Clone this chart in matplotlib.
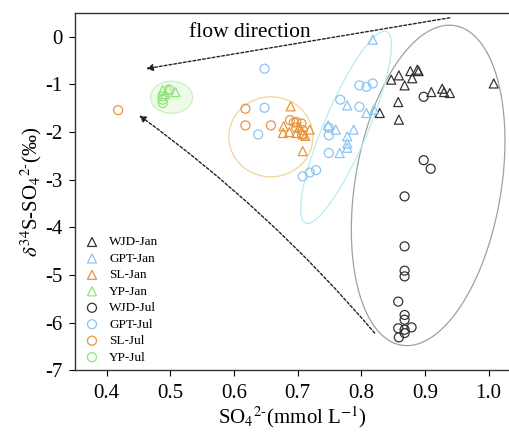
import numpy as np
import matplotlib.pyplot as plt
from matplotlib.patches import Polygon

plt.rcParams['font.family'] = ['Liberation Serif', 'DejaVu Serif']
plt.rcParams['mathtext.fontset'] = 'stix'

# data
wjd_jan_x = [0.847, 0.859, 0.868, 0.877, 0.880, 0.888, 0.890, 0.910, 0.927, 0.930, 0.939, 1.008, 0.858, 0.859, 0.829]
wjd_jan_y = [-0.90, -0.81, -1.02, -0.72, -0.87, -0.69, -0.72, -1.16, -1.09, -1.16, -1.18, -0.98, -1.37, -1.74, -1.60]
gpt_jan_x = [0.818, 0.778, 0.808, 0.820, 0.748, 0.760, 0.788, 0.778, 0.778, 0.778, 0.766]
gpt_jan_y = [-0.06, -1.44, -1.60, -1.53, -1.86, -1.95, -1.95, -2.09, -2.24, -2.33, -2.44]
sl_jan_x = [0.689, 0.678, 0.677, 0.687, 0.698, 0.708, 0.719, 0.708, 0.703, 0.712]
sl_jan_y = [-1.46, -1.88, -2.02, -2.00, -2.02, -2.05, -1.95, -2.40, -1.90, -2.08]
yp_jan_x = [0.488, 0.508, 0.497, 0.492]
yp_jan_y = [-1.12, -1.16, -1.10, -1.20]
wjd_jul_x = [0.898, 0.898, 0.909, 0.868, 0.868, 0.868, 0.868, 0.858, 0.868, 0.868, 0.858, 0.879, 0.868, 0.868, 0.859]
wjd_jul_y = [-1.26, -2.59, -2.77, -3.35, -4.40, -4.91, -5.03, -5.56, -5.84, -5.94, -6.12, -6.10, -6.15, -6.22, -6.31]
gpt_jul_x = [0.648, 0.648, 0.638, 0.797, 0.808, 0.818, 0.767, 0.797, 0.749, 0.749, 0.749, 0.708, 0.719, 0.729]
gpt_jul_y = [-0.67, -1.49, -2.05, -1.02, -1.05, -0.98, -1.32, -1.47, -1.91, -2.07, -2.44, -2.93, -2.85, -2.80]
sl_jul_x = [0.418, 0.618, 0.618, 0.658, 0.688, 0.698, 0.706, 0.698, 0.708, 0.707, 0.694]
sl_jul_y = [-1.54, -1.51, -1.86, -1.86, -1.75, -1.79, -1.82, -1.91, -1.96, -2.05, -1.80]
yp_jul_x = [0.488, 0.488, 0.488, 0.498]
yp_jul_y = [-1.25, -1.32, -1.39, -1.11]

black = '#333333'
blue = '#8cc4f7'
orange = '#e8953f'
green = '#8ee57a'

fig = plt.figure(figsize=(5.09, 4.33), dpi=100)
ax = fig.add_axes([0.147, 0.145, 0.853, 0.825])
ax.set_xlim(0.35, 1.032)
ax.set_ylim(-7, 0.5)

# px per data unit (for drawing rotated ellipses in screen shape)
sx = 0.853 * 509 / (1.032 - 0.35)
sy = 0.825 * 433 / 7.5


def ellipse(cx, cy, a, b, ang, **kw):
    # a, b semi axes in pixels, ang in degrees from vertical (clockwise)
    t = np.linspace(0, 2 * np.pi, 200)
    th = np.radians(ang)
    u = b * np.cos(t)
    v = a * np.sin(t)
    px = u * np.cos(th) + v * np.sin(th)
    py = -u * np.sin(th) + v * np.cos(th)
    pts = np.column_stack([cx + px / sx, cy + py / sy])
    ax.add_patch(Polygon(pts, closed=True, **kw))


ellipse(0.905, -3.12, 162, 73, 9.5, fill=False, ec='#a0a0a0', lw=0.9)
ellipse(0.776, -1.90, 104, 22, 23, fill=False, ec='#b8ecf2', lw=0.9)
ellipse(0.658, -2.10, 40, 42, 0, fill=False, ec='#f2d49a', lw=0.9)
ellipse(0.502, -1.27, 16, 21, 0, fc='#eefbe9', ec='#c8f2bc', lw=0.9)

kw = dict(s=42, facecolors='none', linewidths=0.9)
ax.scatter(wjd_jan_x, wjd_jan_y, marker='^', edgecolors=black, label='WJD-Jan', **kw)
ax.scatter(gpt_jan_x, gpt_jan_y, marker='^', edgecolors=blue, label='GPT-Jan', **kw)
ax.scatter(sl_jan_x, sl_jan_y, marker='^', edgecolors=orange, label='SL-Jan', **kw)
ax.scatter(yp_jan_x, yp_jan_y, marker='^', edgecolors=green, label='YP-Jan', **kw)
ax.scatter(wjd_jul_x, wjd_jul_y, marker='o', edgecolors=black, label='WJD-Jul', **kw)
ax.scatter(gpt_jul_x, gpt_jul_y, marker='o', edgecolors=blue, label='GPT-Jul', **kw)
ax.scatter(sl_jul_x, sl_jul_y, marker='o', edgecolors=orange, label='SL-Jul', **kw)
ax.scatter(yp_jul_x, yp_jul_y, marker='o', edgecolors=green, label='YP-Jul', **kw)

# flow direction arrows
arrow = dict(arrowstyle='-|>', ls=(0, (2, 1.5)), lw=1.0, color='#222222',
             mutation_scale=10, shrinkA=0, shrinkB=0)
ax.annotate('', xy=(0.462, -0.67), xytext=(0.939, 0.40), arrowprops=arrow)
ax.annotate('', xy=(0.451, -1.65), xytext=(0.821, -6.22),
            arrowprops=dict(arrow, connectionstyle='arc3,rad=0.06'))
ax.text(0.53, 0.08, 'flow direction', fontsize=15.5, va='center', ha='left')

ax.set_xticks([0.4, 0.5, 0.6, 0.7, 0.8, 0.9, 1.0])
ax.set_xticklabels(['0.4', '0.5', '0.6', '0.7', '0.8', '0.9', '1.0'])
ax.set_yticks(range(-7, 1))
ax.set_yticklabels([str(v) for v in range(-7, 1)])
ax.tick_params(labelsize=15, direction='out', length=4, width=0.8)
ax.tick_params(axis='x', pad=6)
ax.tick_params(axis='y', pad=5)
ax.spines['right'].set_visible(False)
for sp in ['left', 'bottom', 'top']:
    ax.spines[sp].set_linewidth(1.0)
    ax.spines[sp].set_color('#333333')

ax.set_xlabel(r'SO$_4$$^{2\text{-}}$(mmol L$^{-1}$)', fontsize=15, labelpad=1)
ax.set_ylabel(r'$\delta^{34}$S-SO$_4$$^{2\text{-}}$(‰)', fontsize=15, labelpad=1)

ax.legend(loc='lower left', frameon=False, fontsize=9.5, labelspacing=0.32,
          handletextpad=0.5, handlelength=1.6, borderaxespad=0.1,
          bbox_to_anchor=(0.0, 0.0))

fig.savefig('out.png', dpi=100)
